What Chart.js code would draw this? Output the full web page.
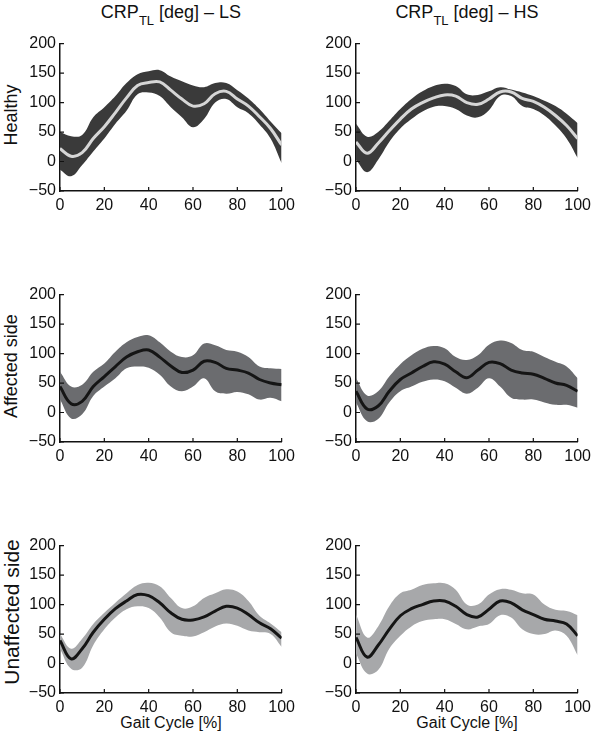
<!DOCTYPE html>
<html>
<head>
<meta charset="utf-8">
<script src="https://cdn.jsdelivr.net/npm/chart.js@4.4.1/dist/chart.umd.min.js"></script>
<style>
  body { margin: 0; background: #fff; }
  #fig { position: relative; width: 600px; height: 736px; font-family: "Liberation Sans", Arial, Helvetica, sans-serif; color: #111; }
  #fig canvas { position: absolute; }
  .title { position: absolute; top: 3px; width: 300px; font-size: 18px; line-height: 18px; text-align: center; white-space: nowrap; }
  .title span { font-size: 13px; position: relative; top: 7px; }
  .rowlab { position: absolute; left: 11px; line-height: 1; white-space: nowrap; transform: translate(-50%, -50%) rotate(-90deg); }
  .xlab { position: absolute; top: 715px; width: 300px; font-size: 16px; line-height: 16px; text-align: center; }
</style>
</head>
<body>
<div id="fig">
  <div class="title" style="left:21px">CRP<span>TL</span> [deg] – LS</div>
  <div class="title" style="left:317px">CRP<span>TL</span> [deg] – HS</div>
  <div class="rowlab" style="top:115px;font-size:18px">Healthy</div>
  <div class="rowlab" style="top:366px;font-size:18px">Affected side</div>
  <div class="rowlab" style="top:612px;font-size:21px">Unaffected side</div>
  <div class="xlab" style="left:21px">Gait Cycle [%]</div>
  <div class="xlab" style="left:317px">Gait Cycle [%]</div>
  <canvas id="p1" width="300" height="191" style="left:0;top:30px"></canvas>
  <canvas id="p2" width="300" height="191" style="left:296px;top:30px"></canvas>
  <canvas id="p3" width="300" height="191" style="left:0;top:281px"></canvas>
  <canvas id="p4" width="300" height="191" style="left:296px;top:281px"></canvas>
  <canvas id="p5" width="300" height="191" style="left:0;top:532px"></canvas>
  <canvas id="p6" width="300" height="191" style="left:296px;top:532px"></canvas>
</div>
<script>
const gaitCycle = [0, 5, 10, 15, 20, 25, 30, 35, 40, 45, 50, 55, 60, 65, 70, 75, 80, 85, 90, 95, 100];
const xTicks = [0, 20, 40, 60, 80, 100];
const yTicks = [-50, 0, 50, 100, 150, 200];

// healthy, LS
const healthyLsMean  = [22, 9, 15, 39, 59, 83, 108, 129, 134, 135, 121, 106, 94, 98, 115, 119, 106, 94, 76, 56, 28];
const healthyLsUpper = [50, 43, 45, 75, 92, 111, 133, 148, 153, 155, 144, 136, 129, 126, 133, 133, 121, 107, 89, 68, 48];
const healthyLsLower = [-14, -25, -6, 17, 39, 64, 86, 114, 117, 111, 92, 75, 58, 72, 100, 106, 92, 82, 63, 39, -3];
// healthy, HS
const healthyHsMean  = [33, 14, 31, 52, 72, 89, 100, 108, 113, 111, 100, 97, 106, 118, 118, 107, 102, 92, 78, 61, 39];
const healthyHsUpper = [64, 42, 50, 69, 89, 106, 119, 128, 132, 128, 114, 113, 119, 126, 122, 117, 111, 103, 94, 81, 65];
const healthyHsLower = [3, -18, 3, 33, 56, 72, 85, 93, 94, 89, 78, 75, 87, 111, 111, 94, 89, 78, 61, 39, 6];
// affected side, LS
const affectedLsMean  = [44, 15, 19, 44, 61, 78, 94, 103, 106, 94, 79, 68, 72, 87, 85, 75, 72, 67, 56, 50, 47];
const affectedLsUpper = [69, 44, 47, 69, 83, 103, 119, 128, 131, 119, 103, 94, 97, 117, 114, 106, 103, 94, 78, 75, 74];
const affectedLsLower = [22, -10, -3, 28, 44, 58, 75, 78, 76, 64, 44, 36, 44, 58, 36, 32, 35, 31, 22, 25, 19];
// affected side, HS
const affectedHsMean  = [36, 6, 11, 36, 56, 67, 78, 86, 82, 69, 59, 72, 85, 83, 72, 67, 65, 58, 50, 46, 36];
const affectedHsUpper = [58, 29, 36, 61, 82, 97, 108, 113, 109, 94, 89, 97, 115, 122, 118, 106, 103, 94, 86, 78, 58];
const affectedHsLower = [17, -15, -11, 17, 36, 44, 52, 56, 53, 42, 32, 42, 58, 44, 25, 22, 22, 17, 13, 13, 8];
// unaffected side, LS
const unaffectedLsMean  = [39, 8, 25, 53, 75, 93, 106, 117, 115, 103, 86, 75, 74, 79, 89, 97, 94, 83, 69, 59, 43];
const unaffectedLsUpper = [50, 25, 42, 67, 86, 103, 119, 133, 137, 131, 111, 94, 97, 111, 119, 126, 122, 106, 81, 68, 53];
const unaffectedLsLower = [25, -9, -7, 31, 58, 78, 92, 97, 94, 78, 53, 47, 46, 53, 63, 68, 64, 56, 53, 50, 28];
// unaffected side, HS
const unaffectedHsMean  = [44, 11, 31, 58, 81, 93, 100, 106, 106, 97, 83, 79, 92, 106, 103, 91, 83, 75, 72, 67, 47];
const unaffectedHsUpper = [83, 44, 63, 97, 119, 125, 133, 136, 136, 125, 100, 100, 117, 126, 125, 119, 117, 100, 91, 89, 82];
const unaffectedHsLower = [17, -17, -11, 25, 47, 63, 72, 75, 75, 67, 58, 63, 67, 82, 78, 58, 50, 50, 56, 47, 14];

Chart.defaults.font.family = '"Liberation Sans", Arial, Helvetica, sans-serif';
Chart.defaults.font.size = 16;
Chart.defaults.color = '#111';

// MATLAB style ticks pointing into the plot
const inwardTicks = {
    id: 'inwardTicks',
    afterDraw(chart) {
        const { ctx, chartArea: a, scales: { x, y } } = chart;
        ctx.save();
        ctx.strokeStyle = '#111';
        ctx.lineWidth = 1.2;
        ctx.beginPath();
        x.ticks.forEach(t => {
            const px = x.getPixelForValue(t.value);
            ctx.moveTo(px, a.bottom);
            ctx.lineTo(px, a.bottom - 4);
        });
        y.ticks.forEach(t => {
            const py = y.getPixelForValue(t.value);
            ctx.moveTo(a.left, py);
            ctx.lineTo(a.left + 4, py);
        });
        ctx.stroke();
        ctx.restore();
    }
};

const pts = vals => vals.map((v, i) => ({ x: gaitCycle[i], y: v }));

function panel(id, mean, upper, lower, bandColor, lineColor) {
    new Chart(document.getElementById(id), {
        type: 'line',
        data: {
            datasets: [
                // mean first so it is drawn on top of the band
                { data: pts(mean), fill: false, borderColor: lineColor, borderWidth: 3 },
                { data: pts(upper), fill: '+1', backgroundColor: bandColor, borderWidth: 0 },
                { data: pts(lower), fill: false, borderWidth: 0 }
            ]
        },
        options: {
            responsive: false,
            animation: false,
            events: [],
            layout: { padding: { top: 10, right: 17, bottom: 4, left: 0 } },
            elements: {
                point: { radius: 0 },
                line: { tension: 0.4 }
            },
            plugins: { legend: { display: false }, tooltip: { enabled: false } },
            scales: {
                x: {
                    type: 'linear', min: 0, max: 100, z: 1,
                    afterFit: s => { s.height = 26; },
                    afterBuildTicks: s => { s.ticks = xTicks.map(v => ({ value: v })); },
                    grid: { drawOnChartArea: false, drawTicks: false },
                    border: { color: '#111', width: 1.5 },
                    ticks: { padding: 5, maxRotation: 0, autoSkip: false }
                },
                y: {
                    min: -50, max: 200, z: 1,
                    afterFit: s => { s.width = 60; },
                    afterBuildTicks: s => { s.ticks = yTicks.map(v => ({ value: v })); },
                    grid: { drawOnChartArea: false, drawTicks: false },
                    border: { color: '#111', width: 1.5 },
                    ticks: { padding: 4, callback: v => String(v).replace('-', '\u2212') }
                }
            }
        },
        plugins: [inwardTicks]
    });
}

panel('p1', healthyLsMean, healthyLsUpper, healthyLsLower, '#3a3a3a', '#d6d6d6');
panel('p2', healthyHsMean, healthyHsUpper, healthyHsLower, '#3a3a3a', '#d6d6d6');
panel('p3', affectedLsMean, affectedLsUpper, affectedLsLower, '#6b6c6f', '#151515');
panel('p4', affectedHsMean, affectedHsUpper, affectedHsLower, '#6b6c6f', '#151515');
panel('p5', unaffectedLsMean, unaffectedLsUpper, unaffectedLsLower, '#a7a8aa', '#151515');
panel('p6', unaffectedHsMean, unaffectedHsUpper, unaffectedHsLower, '#a7a8aa', '#151515');
</script>
</body>
</html>
